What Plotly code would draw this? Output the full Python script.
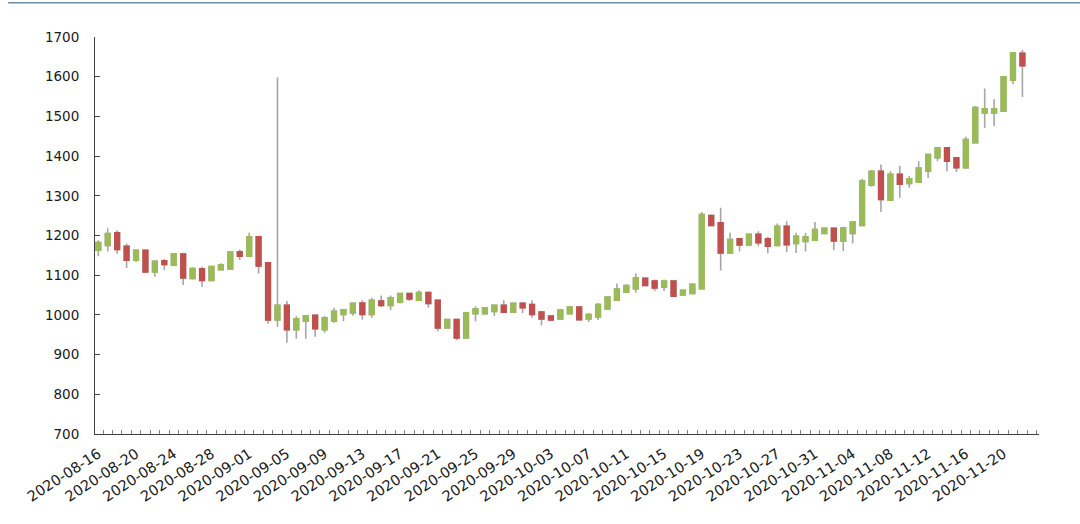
import pandas as pd
import plotly.graph_objects as go

# ---- data ----
start_date = "2020-08-16"
n_days = 99
dates = pd.date_range(start_date, periods=n_days, freq="D")

open_ = [1163, 1175, 1207, 1173, 1138, 1163, 1108, 1136, 1125, 1153,
         1092, 1116, 1087, 1114, 1116, 1159, 1148, 1197, 1131, 987,
         1024, 963, 984, 999, 963, 984, 1001, 1005, 1030, 1001,
         1035, 1024, 1032, 1054, 1037, 1056, 1037, 967, 988, 942,
         1003, 1003, 1009, 1024, 1007, 1029, 1026, 1007, 997, 990,
         1003, 1020, 990, 995, 1015, 1037, 1057, 1066, 1092, 1085,
         1070, 1085, 1050, 1054, 1066, 1250, 1232, 1156, 1192, 1176,
         1203, 1192, 1175, 1223, 1180, 1185, 1188, 1205, 1218, 1186,
         1205, 1225, 1327, 1362, 1289, 1354, 1331, 1334, 1362, 1396,
         1421, 1396, 1371, 1434, 1509, 1509, 1513, 1591, 1659]
high = [1188, 1218, 1213, 1180, 1166, 1165, 1138, 1141, 1156, 1156,
        1120, 1121, 1123, 1130, 1160, 1165, 1207, 1198, 1133, 1598,
        1035, 997, 1000, 1001, 997, 1018, 1015, 1030, 1037, 1043,
        1049, 1049, 1055, 1055, 1062, 1057, 1039, 990, 990, 1008,
        1022, 1019, 1025, 1037, 1030, 1032, 1037, 1009, 998, 1013,
        1022, 1022, 1005, 1030, 1047, 1079, 1077, 1104, 1093, 1089,
        1089, 1087, 1064, 1078, 1259, 1253, 1270, 1207, 1194, 1204,
        1211, 1197, 1230, 1236, 1207, 1207, 1234, 1219, 1219, 1222,
        1236, 1343, 1365, 1379, 1362, 1376, 1350, 1387, 1406, 1423,
        1423, 1398, 1449, 1526, 1570, 1543, 1602, 1662, 1667]
low = [1148, 1160, 1154, 1118, 1133, 1107, 1096, 1113, 1124, 1075,
       1089, 1071, 1085, 1112, 1114, 1138, 1146, 1104, 978, 970,
       930, 940, 940, 945, 955, 980, 984, 998, 988, 993,
       1020, 1012, 1029, 1035, 1036, 1018, 959, 966, 936, 940,
       984, 1001, 997, 1005, 1005, 1005, 993, 973, 984, 988,
       1001, 986, 982, 987, 1013, 1035, 1055, 1056, 1072, 1060,
       1060, 1045, 1049, 1052, 1064, 1223, 1112, 1155, 1160, 1173,
       1173, 1155, 1173, 1158, 1156, 1160, 1186, 1203, 1163, 1161,
       1180, 1224, 1323, 1259, 1287, 1295, 1320, 1333, 1345, 1387,
       1362, 1360, 1368, 1432, 1471, 1476, 1511, 1581, 1549]
close = [1182, 1205, 1165, 1138, 1163, 1108, 1135, 1127, 1153, 1093,
         1117, 1087, 1122, 1126, 1158, 1148, 1197, 1123, 987, 1024,
         963, 990, 998, 965, 993, 1009, 1013, 1029, 1001, 1037,
         1024, 1043, 1054, 1040, 1056, 1029, 967, 988, 942, 1005,
         1015, 1018, 1024, 1007, 1029, 1018, 1001, 990, 987, 1012,
         1020, 988, 1001, 1026, 1045, 1065, 1074, 1093, 1074, 1068,
         1085, 1047, 1062, 1077, 1253, 1225, 1156, 1190, 1176, 1203,
         1182, 1173, 1223, 1177, 1198, 1197, 1215, 1218, 1186, 1219,
         1234, 1337, 1362, 1291, 1354, 1329, 1343, 1370, 1404, 1421,
         1387, 1371, 1442, 1522, 1519, 1519, 1600, 1660, 1628]

y_ticks = list(range(700, 1701, 100))

# ---- styles ----
GREEN = "#9bbb59"
RED = "#c0504d"
WICK = "#a6a6a6"
AXIS = "#404040"
FONT = "DejaVu Sans"

body_top = [max(o, c) for o, c in zip(open_, close)]
body_bot = [min(o, c) for o, c in zip(open_, close)]

fig = go.Figure()
# wicks (grey)
fig.add_trace(go.Candlestick(
    x=dates, open=open_, high=high, low=low, close=close,
    increasing=dict(line=dict(color=WICK, width=1.6), fillcolor=WICK),
    decreasing=dict(line=dict(color=WICK, width=1.6), fillcolor=WICK),
    whiskerwidth=0, showlegend=False, hoverinfo="skip"))
# coloured bodies
fig.add_trace(go.Candlestick(
    x=dates, open=open_, high=body_top, low=body_bot, close=close,
    increasing=dict(line=dict(color=GREEN, width=1.6), fillcolor=GREEN),
    decreasing=dict(line=dict(color=RED, width=1.6), fillcolor=RED),
    whiskerwidth=0, showlegend=False))

fig.update_layout(
    width=1080, height=524,
    margin=dict(l=95, r=41, t=37, b=90),
    paper_bgcolor="white", plot_bgcolor="white",
    font=dict(family=FONT, color="#1a1a1a"),
    showlegend=False,
    xaxis=dict(
        type="date",
        range=["2020-08-15 15:36", "2020-11-23 18:14"],
        tickformat="%Y-%m-%d", tick0=start_date, dtick=4 * 86400000,
        tickangle=-33, ticks="", showgrid=False, zeroline=False,
        showline=True, linecolor=AXIS, linewidth=1,
        tickfont=dict(size=14.5, family=FONT, color="#1a1a1a"),
        ticklabelstandoff=5,
        rangeslider=dict(visible=False),
        minor=dict(ticks="inside", dtick=86400000, tick0="2020-08-16 12:00",
                   ticklen=4, tickcolor="#808080", tickwidth=1, showgrid=False),
    ),
    yaxis=dict(
        range=[700, 1700], tickvals=y_ticks,
        ticks="inside", ticklen=5, tickcolor=AXIS,
        showgrid=False, zeroline=False,
        showline=True, linecolor=AXIS, linewidth=1,
        tickfont=dict(size=13.5, family=FONT, color="#1a1a1a"),
        ticklabelstandoff=12,
    ),
    shapes=[dict(type="line", xref="paper", yref="paper",
                 x0=-0.092, x1=1.05, y0=1.0864, y1=1.0864,
                 line=dict(color="#6f8aa3", width=1.5))],
)

# remove the browser's default 8px page margin so the figure fills the window
fig.write_html("out.html", config={"displayModeBar": False},
               post_script="document.body.style.margin='0';")
